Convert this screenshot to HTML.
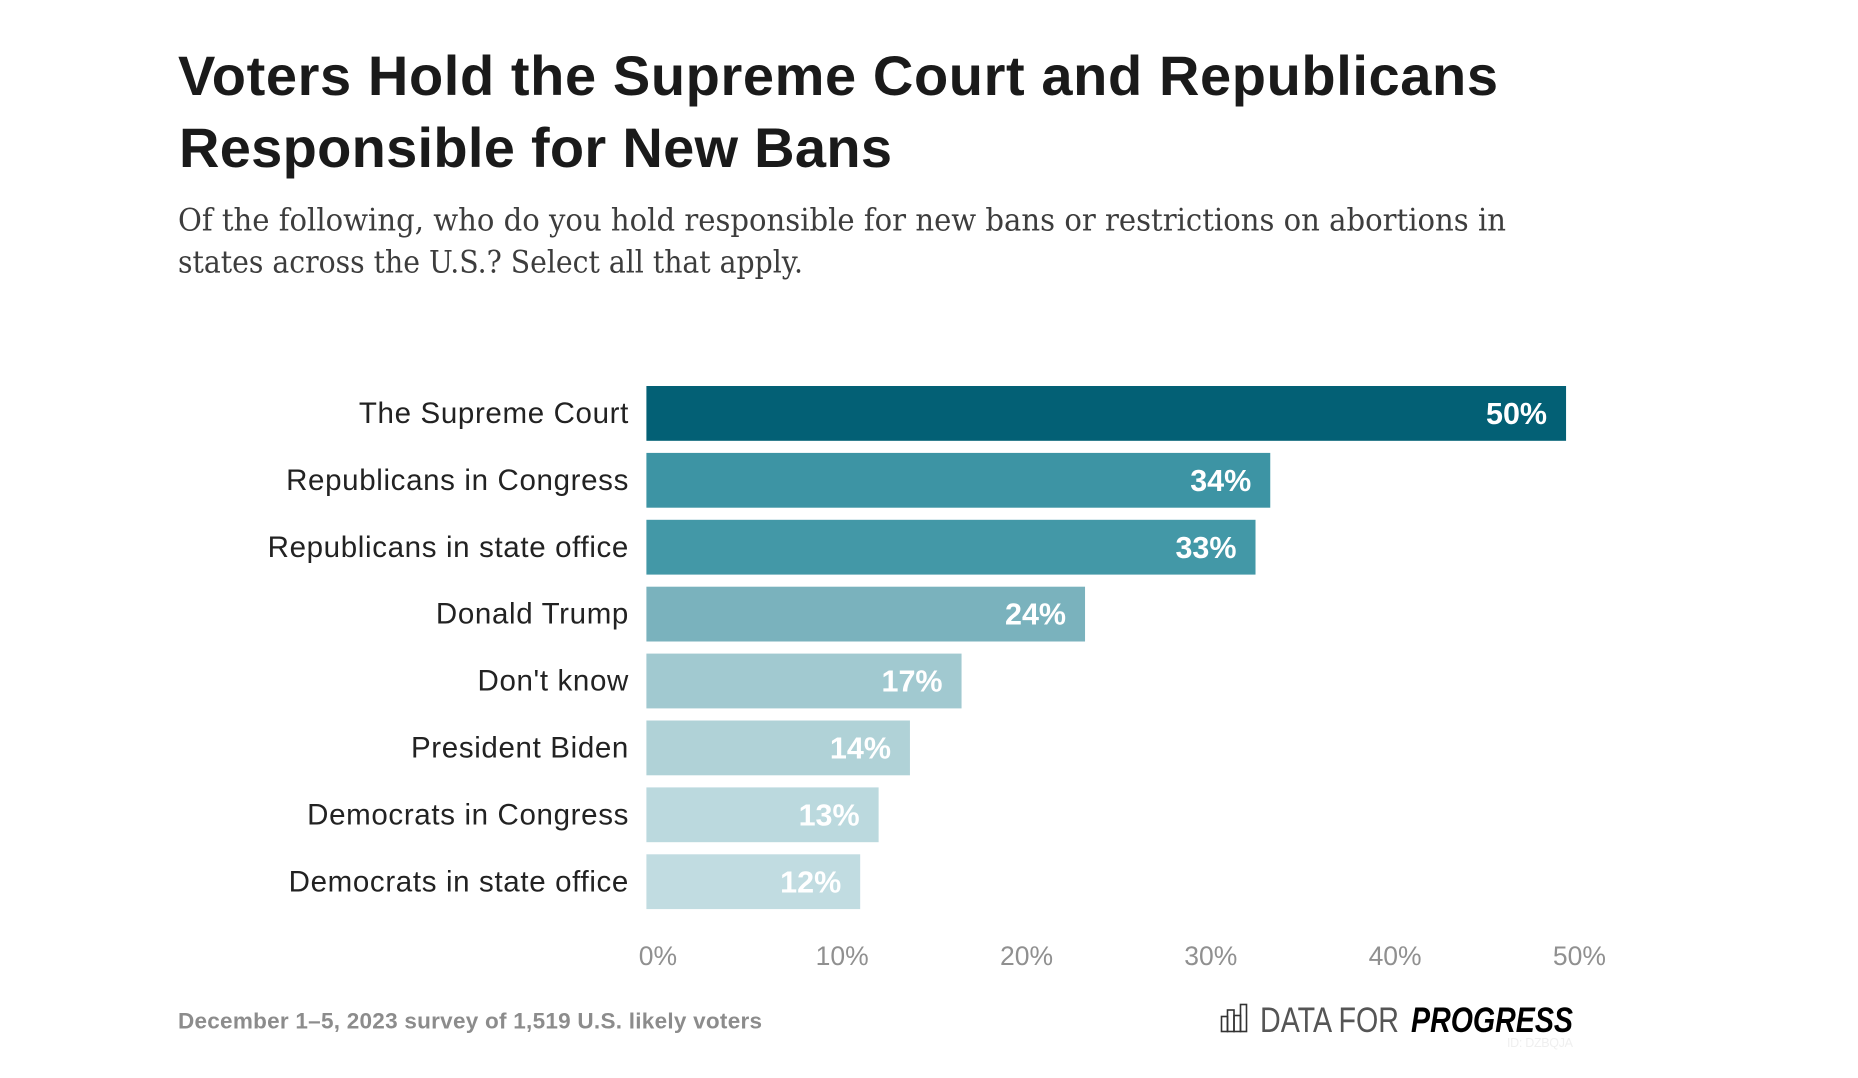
<!DOCTYPE html>
<html>
<head>
<meta charset="utf-8">
<title>Voters Hold the Supreme Court and Republicans Responsible for New Bans</title>
<style>
html,body{margin:0;padding:0;background:#fff;width:1858px;height:1078px;overflow:hidden}
svg{display:block}
text{font-family:"Liberation Sans",sans-serif}
.title{font-size:56px;font-weight:700;fill:#1a1a1a}
.sub{font-family:"DejaVu Serif",serif;font-size:31px;fill:#3d3d3d}
.cat{font-size:29.5px;letter-spacing:.65px;fill:#222;text-anchor:end}
.val{font-size:30.5px;font-weight:700;fill:#fff;text-anchor:end}
.tick{font-size:26.5px;fill:#909090;text-anchor:middle}
.foot{font-size:22.5px;font-weight:700;fill:#8c8c8c}
</style>
</head>
<body>
<svg id="chart" width="1858" height="1078" viewBox="0 0 1858 1078" xmlns="http://www.w3.org/2000/svg">
  <rect x="0" y="0" width="1858" height="1078" fill="#fff"/>
  <text class="title" x="178" y="95" textLength="1320" lengthAdjust="spacing">Voters Hold the Supreme Court and Republicans</text>
  <text class="title" x="179" y="167" textLength="713" lengthAdjust="spacing">Responsible for New Bans</text>
  <text class="sub" x="178" y="230.5" textLength="1328" lengthAdjust="spacingAndGlyphs">Of the following, who do you hold responsible for new bans or restrictions on abortions in</text>
  <text class="sub" x="178" y="272.5" textLength="625" lengthAdjust="spacingAndGlyphs">states across the U.S.? Select all that apply.</text>
  <g id="bars"></g>
  <g id="xaxis"></g>
  <text class="foot" x="178" y="1028.5" textLength="584" lengthAdjust="spacing">December 1–5, 2023 survey of 1,519 U.S. likely voters</text>
  <g>
    <g fill="none" stroke="#333" stroke-width="1.6">
      <rect x="1221.5" y="1016.5" width="6" height="15"/>
      <rect x="1227.5" y="1010" width="6.5" height="21.5"/>
      <rect x="1234" y="1015.5" width="6.5" height="16"/>
      <rect x="1240.5" y="1004.5" width="6" height="27"/>
    </g>
    <text x="1260" y="1032" font-size="35" fill="#555" textLength="139" lengthAdjust="spacingAndGlyphs">DATA FOR</text>
    <text x="1411" y="1032" font-size="35" font-weight="700" font-style="italic" fill="#000" textLength="162" lengthAdjust="spacingAndGlyphs">PROGRESS</text>
    <text x="1507" y="1047" font-size="12.5" fill="#efefef" textLength="66">ID: DZBQJA</text>
  </g>
</svg>
<script>
const categories = ["The Supreme Court","Republicans in Congress","Republicans in state office","Donald Trump","Don't know","President Biden","Democrats in Congress","Democrats in state office"];
const values = [49.9,33.85,33.05,23.8,17.1,14.3,12.6,11.6];
const tickValues = [0,10,20,30,40,50];
const palette = ["#036075","#3d94a4","#4398a7","#7ab2bd","#a1c9d0","#b0d2d7","#bbd9de","#c1dce1"];

const NS = "http://www.w3.org/2000/svg";
const xOrigin = 646.4, pxPerPoint = 18.43;
const bandTop = 386, bandStep = 66.9, barHeight = 54.8;
function xScale(v){ return xOrigin + v * pxPerPoint; }
function yScale(i){ return bandTop + i * bandStep; }
function make(tag, attrs, parent, txt){
  const el = document.createElementNS(NS, tag);
  for (const k in attrs) el.setAttribute(k, attrs[k]);
  if (txt !== undefined) el.textContent = txt;
  parent.appendChild(el);
  return el;
}
const barsG = document.getElementById("bars");
categories.forEach(function(cat, i){
  const v = values[i], y = yScale(i), mid = y + barHeight / 2, slug = cat.toLowerCase().replace(/[^a-z]+/g, "-");
  const label = make("text", {class:"cat", x:629, y:mid + 9.6}, barsG, cat);
  
  
  const bar = make("rect", {x:xOrigin, y:y, width:xScale(v) - xOrigin, height:barHeight, fill:palette[i % palette.length]}, barsG);
  
  
  const val = make("text", {class:"val", x:xScale(v) - 19, y:mid + 10.6}, barsG, Math.round(v) + "%");
  
  
});
const axisG = document.getElementById("xaxis");
tickValues.forEach(function(t){
  const tick = make("text", {class:"tick", x:xScale(t) + 11.5, y:965}, axisG, t + "%");
  
  
});
</script>
</body>
</html>
